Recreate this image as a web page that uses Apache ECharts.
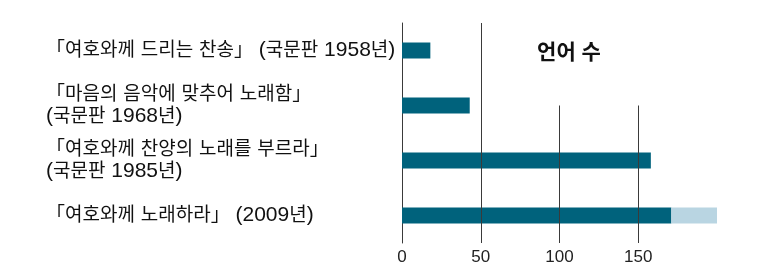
<!DOCTYPE html>
<html>
<head>
<meta charset="utf-8">
<script src="https://cdn.jsdelivr.net/npm/echarts@6/dist/echarts.min.js"></script>
<style>
html,body{margin:0;padding:0;background:#fff;}
#c{width:765px;height:277px;}
</style>
</head>
<body>
<div id="c"></div>
<script>
const categories = [
  '「여호와께 드리는 찬송」 (국문판 1958년)',
  '「마음의 음악에 맞추어 노래함」\n(국문판 1968년)',
  '「여호와께 찬양의 노래를 부르라」\n(국문판 1985년)',
  '「여호와께 노래하라」 (2009년)'
];
const languagesMain = [18, 43, 158, 171];
const languagesExtra = [0, 0, 0, 29];
const tickLabels = [0, 50, 100, 150];
const fullGridLines = [50];
const partialGridLines = [100, 150];
const titleText = '언어 수';

const FONT = "'Liberation Sans', 'Noto Sans CJK KR', sans-serif";
const chart = echarts.init(document.getElementById('c'), null, {renderer: 'canvas'});

const lineColor = '#3a3a3a';
const markData = [];
fullGridLines.forEach(v => markData.push({xAxis: v}));
partialGridLines.forEach(v => markData.push([{coord: [v, 0]}, {coord: [v, 2.5]}]));

function richLabel(v) {
  return v.split('\n').map(line =>
    line.replace(/[\x20-\x7E]+/g, m => '{l|' + m + '}')
  ).join('\n');
}

chart.setOption({
  animation: false,
  backgroundColor: '#fff',
  title: {
    text: titleText,
    left: 564,
    top: 38,
    textAlign: 'center',
    textStyle: {fontFamily: FONT, fontSize: 21, fontWeight: 'bold', color: '#111'}
  },
  grid: {left: 402, right: 48, top: 23, bottom: 34, containLabel: false},
  xAxis: [{
    type: 'value',
    min: 0,
    max: 200,
    interval: 50,
    axisLine: {show: false},
    axisTick: {show: false},
    splitLine: {show: false},
    axisLabel: {
      margin: 6,
      fontFamily: FONT,
      fontSize: 17,
      color: '#222',
      formatter: v => tickLabels.indexOf(v) >= 0 ? String(v) : ''
    }
  }],
  yAxis: [{
    type: 'category',
    data: categories,
    inverse: true,
    axisLine: {show: true, lineStyle: {color: lineColor, width: 1}},
    axisTick: {show: false},
    axisLabel: {
      align: 'left',
      margin: 356,
      fontFamily: FONT,
      fontSize: 19,
      lineHeight: 22,
      color: '#111',
      formatter: richLabel,
      rich: {
        l: {fontFamily: FONT, fontSize: 21, lineHeight: 22, color: '#111'}
      }
    }
  }, {
    type: 'value',
    min: 0,
    max: 4,
    show: false
  }],
  series: [{
    type: 'bar',
    stack: 'total',
    data: languagesMain,
    barWidth: 16,
    itemStyle: {color: '#00627c'},
    z: 2
  }, {
    type: 'bar',
    stack: 'total',
    data: languagesExtra,
    barWidth: 16,
    itemStyle: {color: '#b9d5e2'},
    z: 2
  }, {
    type: 'line',
    xAxisIndex: 0,
    yAxisIndex: 1,
    data: [],
    z: 5,
    markLine: {
      silent: true,
      symbol: ['none', 'none'],
      label: {show: false},
      lineStyle: {color: lineColor, width: 1, type: 'solid'},
      data: markData
    }
  }]
});
</script>
</body>
</html>
